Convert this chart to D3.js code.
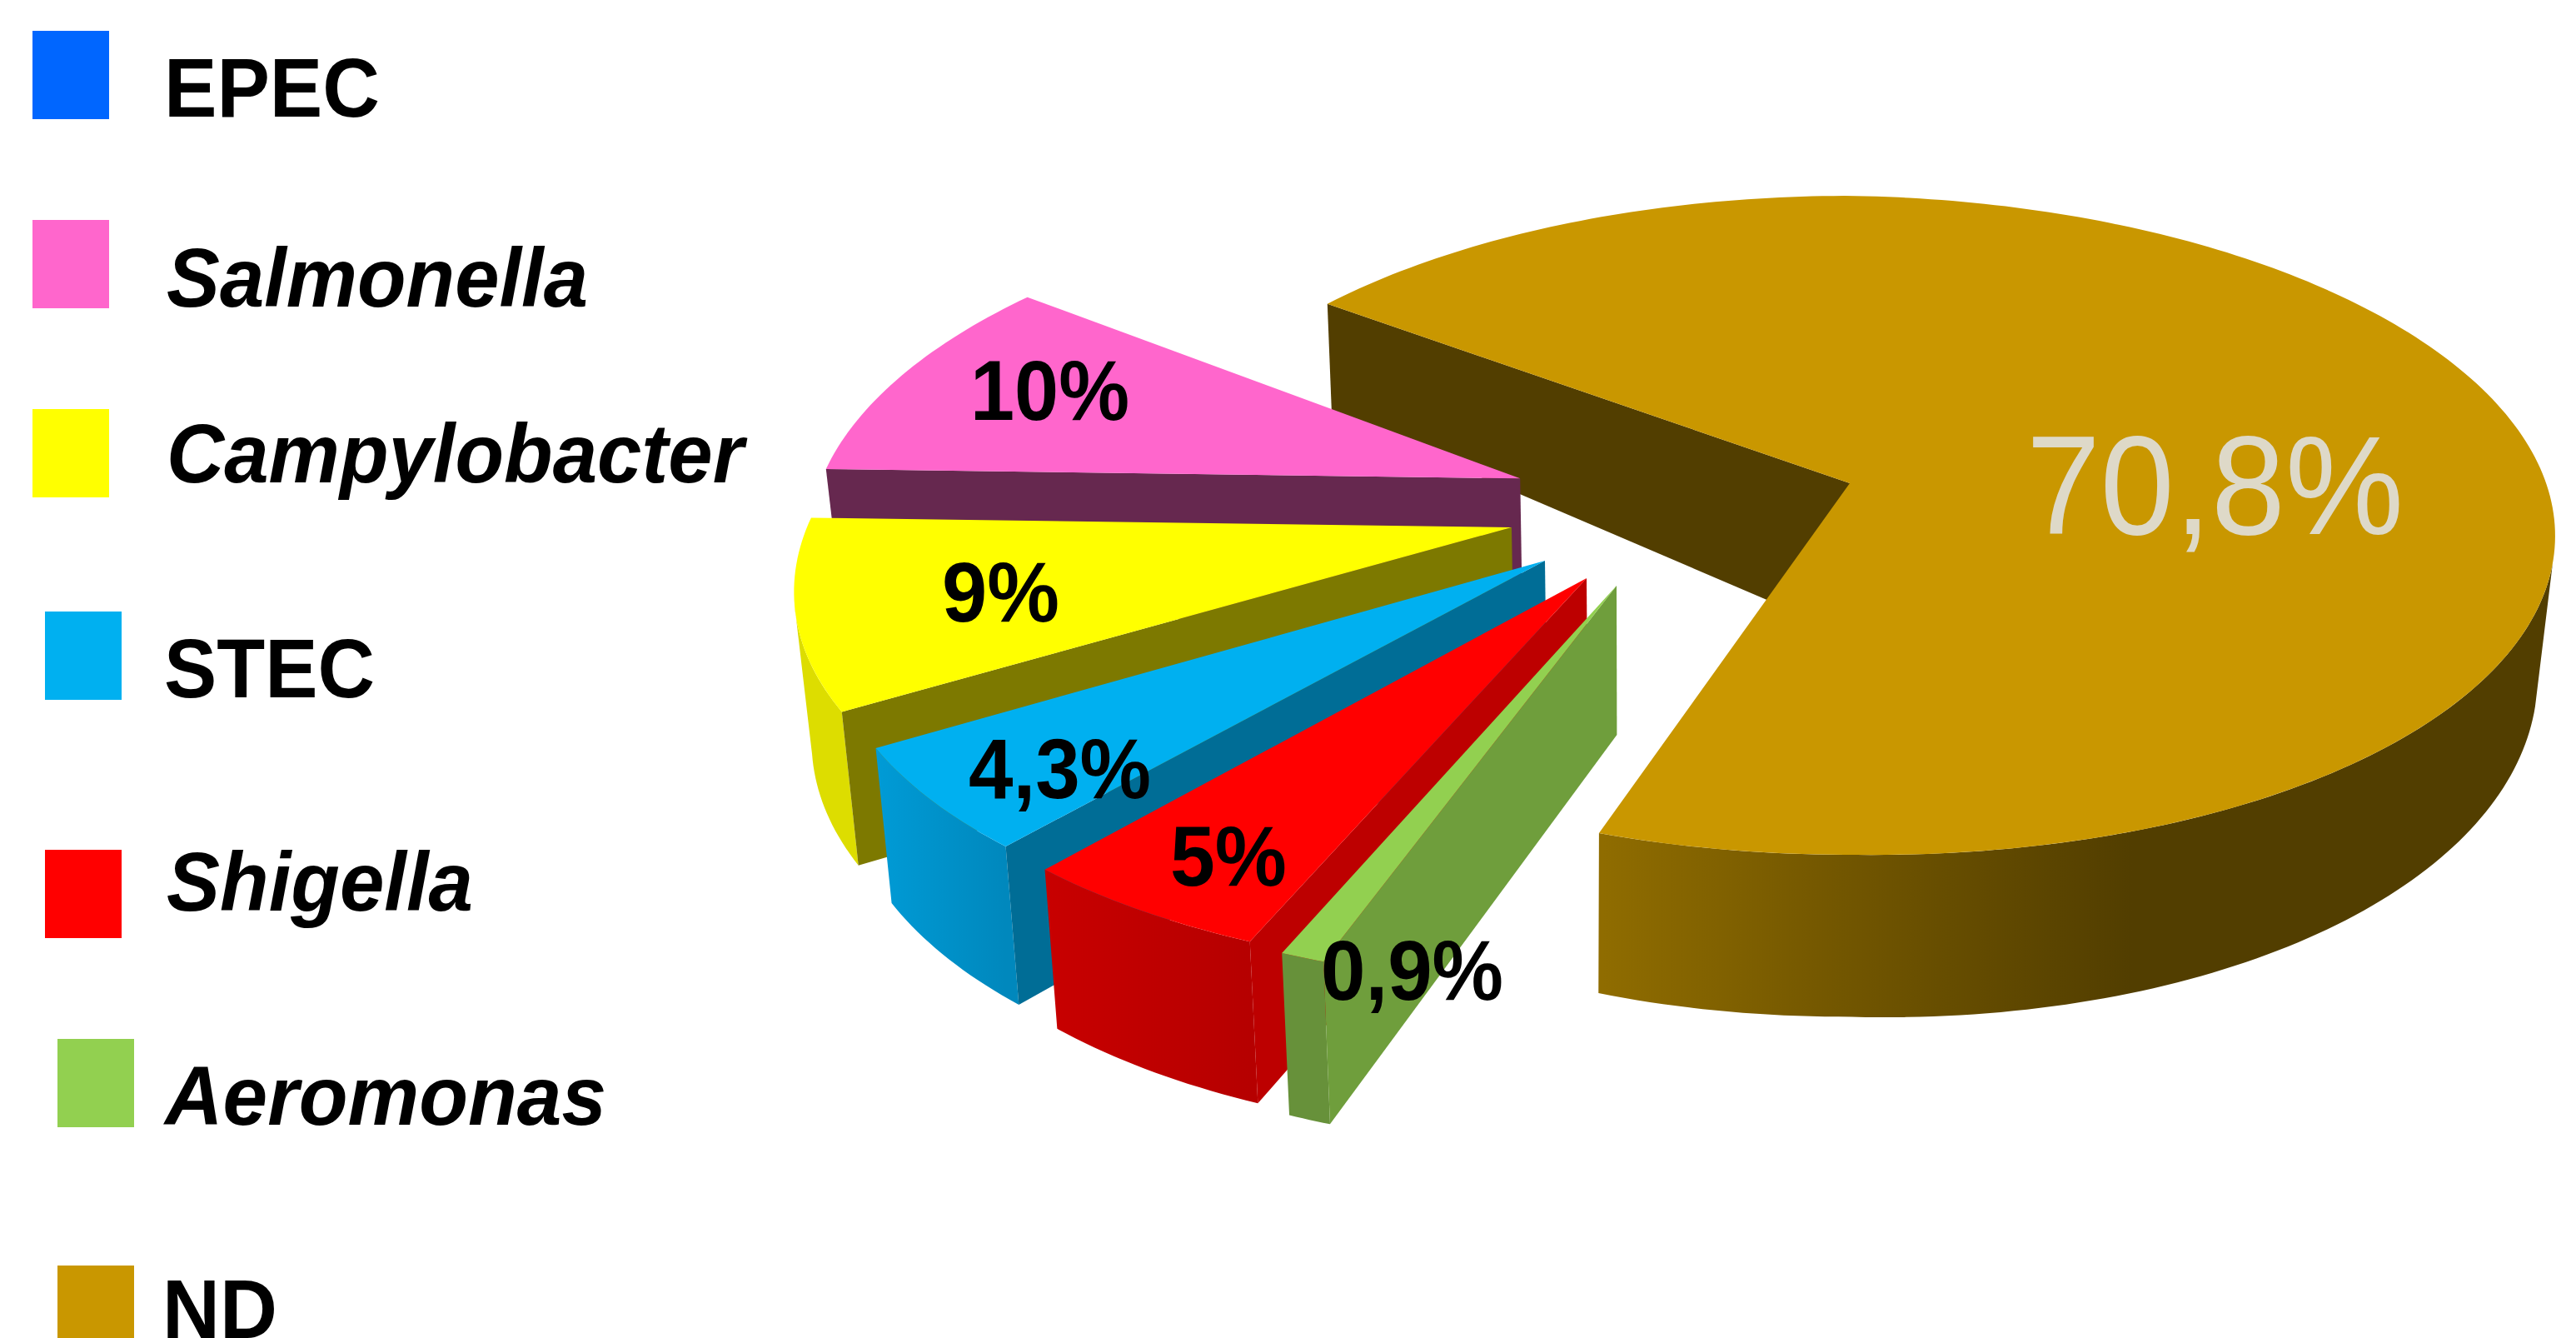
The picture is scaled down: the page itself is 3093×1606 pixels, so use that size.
<!DOCTYPE html>
<html>
<head>
<meta charset="utf-8">
<script src="https://cdn.jsdelivr.net/npm/d3@7"></script>
<style>html,body{margin:0;padding:0;background:#fff;overflow:hidden}svg{display:block}</style>
</head>
<body>
<script>
// ---- data (legend order) ----
const categories = ["EPEC", "Salmonella", "Campylobacter", "STEC", "Shigella", "Aeromonas", "ND"];
const values = [0, 10, 9, 4.3, 5, 0.9, 70.8];
const valueLabels = ["", "10%", "9%", "4,3%", "5%", "0,9%", "70,8%"];
const italicNames = ["Salmonella", "Campylobacter", "Shigella", "Aeromonas"];

// ---- styles ----
const topColors = ["#0066ff", "#ff66cc", "#ffff00", "#00b0f0", "#ff0000", "#92d050", "#c99700"];
const radialColors = ["#003d99", "#66284f", "#7d7900", "#006d96", "#bd0000", "#6f9e3c", "#523e00"];
const rimColorsA = ["#003d99", "#66284f", "#dddd00", "#009bd6", "#c80000", "#67913a", "#8f6c00"];
const rimColorsB = ["#003d99", "#66284f", "#dddd00", "#0088bd", "#b60000", "#67913a", "#523e00"];

// ---- layout ----
const W = 3093, H = 1606;
const sweepOrder = ["Aeromonas", "Shigella", "STEC", "Campylobacter", "Salmonella", "EPEC", "ND"];
const pieStartDeg = 198.4;
// the source's slices are hand-adjusted: rotation (degrees) and angular stretch of every slice
const sliceTurn = [0, 3.92, 3.9, 2.1, 0.3, 0, 1.49];
const sliceSpread = [1, 0.987, 1.015, 1.198, 1.03, 0.99, 0.988];
const sliceRadius = [1, 1.0, 0.99, 0.98, 0.985, 0.989, 1];
// exploded offset of every small slice, in disc units
const shiftU = [0, -0.472, -0.4751, -0.4228, -0.3626, -0.3204, 0];
const shiftV = [0, -0.0147, 0.1339, 0.232, 0.2825, 0.3039, 0];

const origin = [2221, 580];
const view = {a: 840, b: 389, k: 0.1277};
const ndTopShear = 0.015;
const ndBase = {x0: 2215, y0: 732, a: 825, b: 426, k: 0.1277, shear: 0.03};
const ndSilhouetteDeg = 102 + 360, smallSilhouetteDeg = 257;

const legendSwatchX = [39, 39, 39, 54, 54, 69, 69];
const legendSwatchY = [37, 264, 491, 734, 1020, 1247, 1519];
const legendSwatchW = 92, legendSwatchH = 106;
const legendTextX = [197, 200, 200, 197, 200, 198, 195];
const legendTextEnd = [456, 706, 893, 450, 568, 728, 333];
const legendBaseline = [140, 368, 579, 837, 1093, 1350, 1606];

const labelX = [0, 1165, 1131, 1163, 1405, 1586, 2433];
const labelEnd = [0, 1356, 1272, 1382, 1545, 1805, 2886];
const labelBaseline = [0, 504, 746, 958, 1063, 1200, 641];
const labelSizeSmall = 102, labelSizeBig = 168;

// ---- helpers ----
const svg = d3.select("body").append("svg").attr("width", W).attr("height", H).attr("viewBox", `0 0 ${W} ${H}`);
const defs = svg.append("defs");
const line = d3.line();
const poly = pts => line(pts) + "Z";
const deg = x => x * Math.PI / 180;

function project(u, v) {
  const w = 1 - view.k * v;
  return [origin[0] + view.a * u / w, origin[1] + view.b * v / w];
}
function ndTop(u, v) {
  const p = project(u, v);
  return [p[0], p[1] + ndTopShear * Math.max(0, p[0] - origin[0])];
}
function ndBottom(u, v) {
  const w = 1 - ndBase.k * v;
  const dx = ndBase.a * u / w;
  return [ndBase.x0 + dx, ndBase.y0 + ndBase.b * v / w + ndBase.shear * Math.max(0, dx)];
}
// the underside of the small slices
function smallBottom(p) {
  return [p[0] + (1960 - p[0]) * 0.021, p[1] + 179 + (p[1] - 703) * 0.0354];
}

const pie = d3.pie()
  .sort((a, b) => sweepOrder.indexOf(a.name) - sweepOrder.indexOf(b.name))
  .value(d => d.value)
  .startAngle(deg(pieStartDeg))
  .endAngle(deg(pieStartDeg + 360));

const arcs = pie(categories.map((name, i) => ({name, value: values[i], i})));

function sliceAngles(d) {
  const i = d.data.i;
  const mid = (d.startAngle + d.endAngle) / 2 + deg(sliceTurn[i]);
  const half = (d.endAngle - d.startAngle) / 2 * sliceSpread[i];
  return [mid - half, mid + half];
}
function rimAngles(a0, a1) {
  const n = Math.max(6, Math.ceil((a1 - a0) * 180 / Math.PI));
  return d3.range(n + 1).map(j => a0 + (a1 - a0) * j / n);
}

// ---- ND slice (largest, drawn first, furthest back) ----
function drawND(d) {
  const i = d.data.i;
  const [a0, a1] = sliceAngles(d);
  const uv = t => [Math.sin(t), -Math.cos(t)];
  const top = t => ndTop(...uv(t));
  const bot = t => ndBottom(...uv(t));
  const apex = project(0, 0);

  // cut wall at the start edge
  const wallApexBottom = [ndBase.x0, ndBase.y0 + 28];
  svg.append("path").attr("d", poly([top(a0), apex, wallApexBottom, bot(a0)])).attr("fill", radialColors[i]);

  // front wall
  const gid = "wall-" + i;
  const g = defs.append("linearGradient").attr("id", gid).attr("gradientUnits", "userSpaceOnUse")
    .attr("x1", 1925).attr("x2", 2560).attr("y1", 0).attr("y2", 0);
  g.append("stop").attr("offset", 0).attr("stop-color", rimColorsA[i]);
  g.append("stop").attr("offset", 0.45).attr("stop-color", "#725600");
  g.append("stop").attr("offset", 1).attr("stop-color", rimColorsB[i]);
  const ang = rimAngles(deg(ndSilhouetteDeg), a1);
  svg.append("path").attr("d", poly(ang.map(top).concat(ang.slice().reverse().map(bot)))).attr("fill", `url(#${gid})`);

  // top face
  const rim = rimAngles(a0, a1).map(top);
  svg.append("path").attr("d", poly([apex].concat(rim))).attr("fill", topColors[i]);
}

// ---- small exploded slices ----
function drawSmall(d) {
  const i = d.data.i;
  const [a0, a1] = sliceAngles(d);
  const su = shiftU[i], sv = shiftV[i], r = sliceRadius[i];
  const pt = t => project(su + r * Math.sin(t), sv - r * Math.cos(t));
  const apex = project(su, sv);
  const rim = rimAngles(a0, a1).map(pt);

  const gid = "rim-" + i;
  const g = defs.append("linearGradient").attr("id", gid).attr("gradientUnits", "userSpaceOnUse")
    .attr("x1", d3.min(rim, p => p[0])).attr("x2", d3.max(rim, p => p[0])).attr("y1", 0).attr("y2", 0);
  g.append("stop").attr("offset", 0).attr("stop-color", rimColorsA[i]);
  g.append("stop").attr("offset", 1).attr("stop-color", rimColorsB[i]);

  // outer wall, only up to the silhouette of the slice
  const wallEnd = Math.min(a1, deg(smallSilhouetteDeg));
  if (wallEnd > a0) {
    const wall = rimAngles(a0, wallEnd).map(pt);
    svg.append("path").attr("d", poly(wall.concat(wall.slice().reverse().map(smallBottom)))).attr("fill", `url(#${gid})`);
  }
  // cut wall on the start edge, the one turned towards the viewer
  svg.append("path").attr("d", poly([apex, rim[0], smallBottom(rim[0]), smallBottom(apex)])).attr("fill", radialColors[i]);
  // top face
  svg.append("path").attr("d", poly([apex].concat(rim))).attr("fill", topColors[i]);
}

const byName = n => arcs.find(a => a.data.name === n);
drawND(byName("ND"));
["Salmonella", "Campylobacter", "STEC", "Shigella", "Aeromonas"].forEach(n => drawSmall(byName(n)));

// ---- value labels ----
const font = '"Liberation Sans", Arial, sans-serif';
categories.forEach((name, i) => {
  if (!valueLabels[i]) return;
  const big = name === "ND";
  svg.append("text")
    .attr("x", labelX[i]).attr("y", labelBaseline[i])
    .attr("font-family", font)
    .attr("font-weight", big ? 400 : 700)
    .attr("font-size", big ? labelSizeBig : labelSizeSmall)
    .attr("fill", big ? "#ded9c8" : "#000")
    .attr("textLength", labelEnd[i] - labelX[i])
    .attr("lengthAdjust", "spacingAndGlyphs")
    .text(valueLabels[i]);
});

// ---- legend ----
const legend = svg.append("g").selectAll("g").data(categories).join("g");
legend.append("rect")
  .attr("x", (d, i) => legendSwatchX[i]).attr("y", (d, i) => legendSwatchY[i])
  .attr("width", legendSwatchW).attr("height", legendSwatchH)
  .attr("fill", (d, i) => topColors[i]);
legend.append("text")
  .attr("x", (d, i) => legendTextX[i]).attr("y", (d, i) => legendBaseline[i])
  .attr("font-family", font).attr("font-weight", 700).attr("font-size", 100)
  .attr("font-style", d => italicNames.includes(d) ? "italic" : "normal")
  .attr("textLength", (d, i) => legendTextEnd[i] - legendTextX[i])
  .attr("lengthAdjust", "spacingAndGlyphs")
  .attr("fill", "#000")
  .text(d => d);
</script>
</body>
</html>
